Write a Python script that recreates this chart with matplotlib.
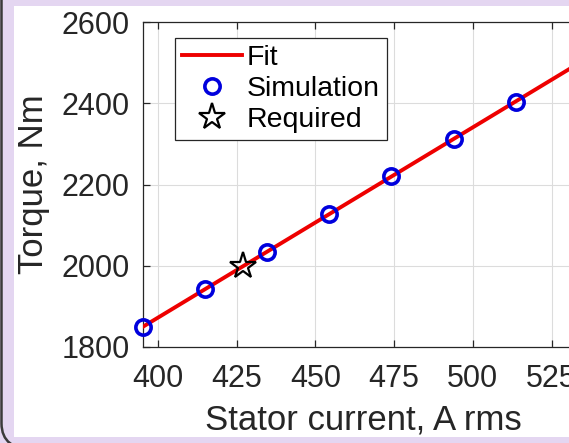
import matplotlib
matplotlib.use('Agg')
import matplotlib.pyplot as plt
from matplotlib.patches import Rectangle, FancyBboxPatch

# data
sim_current = [395.3, 415.0, 434.8, 454.2, 474.0, 494.0, 513.6]
sim_torque = [1850, 1943, 2034, 2127, 2220, 2311, 2404]
fit_current = [395.3, 540.0]
fit_torque = [1850, 2528]
req_current = [427.0]
req_torque = [2000]
x_ticks = [400, 425, 450, 475, 500, 525]
y_ticks = [1800, 2000, 2200, 2400, 2600]

plt.rcParams['font.family'] = ['Liberation Sans', 'DejaVu Sans']

fig = plt.figure(figsize=(5.69, 4.43), dpi=100)
fig.patch.set_facecolor('#e4d6f1')

# white panel and the dark rounded frame of the slide box
fig.patches.append(Rectangle((14/569, 6/443), 1.0, 431/443, transform=fig.transFigure,
                             facecolor='white', edgecolor='none', zorder=-2))
fig.patches.append(FancyBboxPatch((1.5/569, -7/443), 1.2, 1.2, transform=fig.transFigure,
                                  boxstyle='round,pad=0,rounding_size=0.06',
                                  facecolor='none', edgecolor='#3a3a3a', lw=1.8, zorder=-1))

ax = fig.add_axes([143/569, 96/443, 440/569, 325/443])
ax.set_zorder(2)
ax.set_facecolor('white')

ax.plot(fit_current, fit_torque, color='#ee0000', lw=2.8, label='Fit', zorder=3)
ax.plot(sim_current, sim_torque, 'o', color='#0000dd', mfc='none', ms=11, mew=2.6,
        label='Simulation', zorder=4, clip_on=False)
ax.plot(req_current, req_torque, '*', color='black', mfc='none', ms=20, mew=1.6,
        label='Required', zorder=5)

ax.set_xlim(395.3, 535)
ax.set_ylim(1800, 2600)
ax.set_xticks(x_ticks)
ax.set_yticks(y_ticks)
ax.grid(True, color='#dcdcdc', lw=0.8)
ax.set_axisbelow(True)
for s in ax.spines.values():
    s.set_color('#262626')
    s.set_linewidth(0.9)
ax.tick_params(direction='in', length=5, width=0.9, colors='#262626', labelsize=22,
               top=True, right=True)
ax.tick_params(axis='x', pad=12)
ax.tick_params(axis='y', pad=9.5)
ax.set_xlabel('Stator current, A rms', fontsize=25, color='#262626', labelpad=7)
ax.set_ylabel('Torque, Nm', fontsize=25, color='#262626', labelpad=8)

leg = ax.legend(loc='upper left', bbox_to_anchor=(0.073, 0.951), borderaxespad=0,
                fontsize=20.5, fancybox=False, framealpha=1, edgecolor='#262626',
                handlelength=2.1, handletextpad=0.17, labelspacing=0.18, borderpad=0.25)
leg.get_frame().set_linewidth(0.9)

fig.savefig('out.png', dpi=100, facecolor=fig.get_facecolor())
